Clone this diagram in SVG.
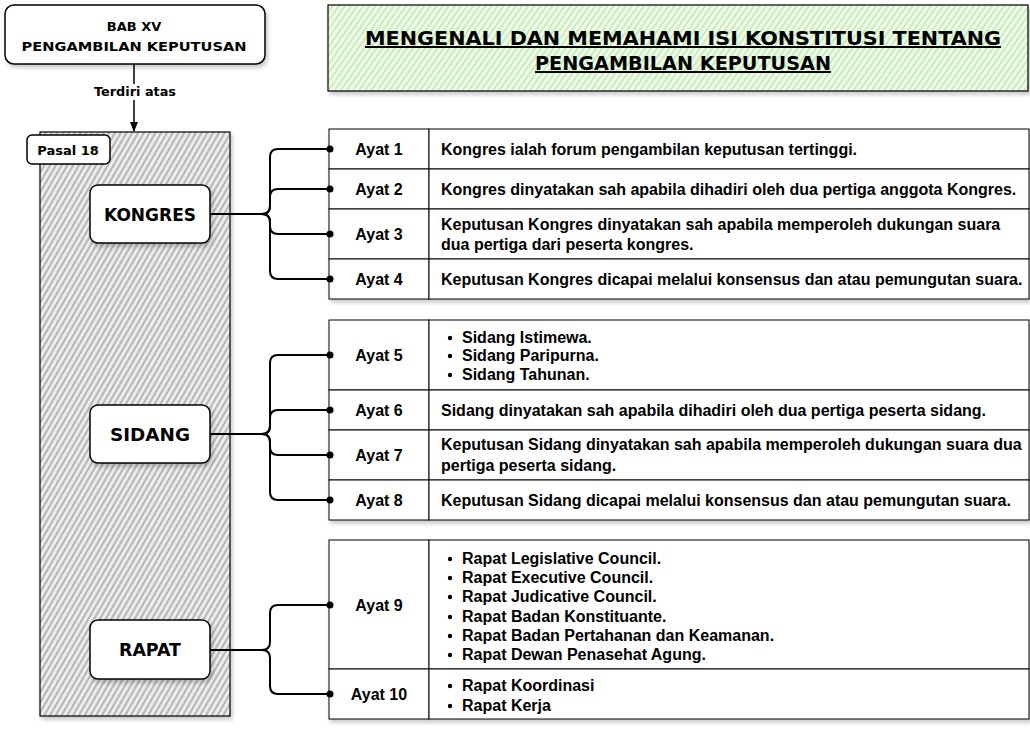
<svg xmlns="http://www.w3.org/2000/svg" width="1030" height="730" viewBox="0 0 1030 730">
<defs>
  <pattern id="hatchGray" width="5" height="5" patternUnits="userSpaceOnUse" patternTransform="rotate(30)">
    <rect width="5" height="5" fill="#ececec"/>
    <line x1="1" y1="0" x2="1" y2="5" stroke="#8a8a8a" stroke-width="1.1"/>
  </pattern>
  <pattern id="hatchGreen" width="5" height="5" patternUnits="userSpaceOnUse" patternTransform="rotate(35)">
    <rect width="5" height="5" fill="#eefbe8"/>
    <line x1="1" y1="0" x2="1" y2="5" stroke="#b4e3a2" stroke-width="1.2"/>
  </pattern>
  <filter id="shadow" x="-10%" y="-10%" width="130%" height="130%">
    <feDropShadow dx="2" dy="3" stdDeviation="2" flood-color="#000" flood-opacity="0.22"/>
  </filter>
  <marker id="arrow" markerWidth="10" markerHeight="10" refX="9" refY="5" orient="auto" markerUnits="userSpaceOnUse">
    <path d="M0,1 L10,5 L0,9 Z" fill="#000"/>
  </marker>
</defs>
<style>
  .sketch { font-family: "DejaVu Sans", "Liberation Sans", sans-serif; font-weight: bold; fill: #000; }
  .box { fill: #fff; stroke: #000; stroke-width: 1.5; }
  .cell { fill: #fff; stroke: #000; stroke-width: 1; }
  .tt { font-family: "Liberation Sans", Arial, sans-serif; font-weight: bold; font-size: 16px; fill: #000; }
  .lbl { text-anchor: middle; }
  .conn { fill: none; stroke: #000; stroke-width: 2; }
  .dot { fill: #000; }
</style>

<!-- Title -->
<g id="title">
  <rect x="328" y="5" width="700" height="86" fill="url(#hatchGreen)" stroke="#000" stroke-width="1.2" filter="url(#shadow)"/>
  <text class="sketch" x="683" y="45" font-size="20" text-anchor="middle" textLength="636" lengthAdjust="spacingAndGlyphs" text-decoration="underline">MENGENALI DAN MEMAHAMI ISI KONSTITUSI TENTANG</text>
  <text class="sketch" x="683" y="70" font-size="20" text-anchor="middle" textLength="296" lengthAdjust="spacingAndGlyphs" text-decoration="underline">PENGAMBILAN KEPUTUSAN</text>
</g>

<!-- BAB XV -->
<g id="bab">
  <rect class="box" x="5" y="5" width="260" height="59" rx="9" filter="url(#shadow)"/>
  <text class="sketch" x="134" y="31" font-size="13" text-anchor="middle">BAB XV</text>
  <text class="sketch" x="134" y="51" font-size="13" text-anchor="middle" textLength="225" lengthAdjust="spacingAndGlyphs">PENGAMBILAN KEPUTUSAN</text>
</g>

<!-- Pasal 18 panel -->
<g id="pasal18">
  <rect x="40" y="132" width="190" height="584" fill="url(#hatchGray)" stroke="#000" stroke-width="1.2" filter="url(#shadow)"/>
  <rect class="box" x="27" y="135" width="83" height="29" rx="5"/>
  <text class="sketch" x="68" y="155" font-size="13" text-anchor="middle">Pasal 18</text>
</g>

<g id="kongres">
  <rect class="box" x="90" y="185" width="120" height="58" rx="8" filter="url(#shadow)"/>
  <text class="sketch" x="150" y="221" font-size="17" text-anchor="middle" textLength="92" lengthAdjust="spacingAndGlyphs">KONGRES</text>
</g>
<g id="sidang">
  <rect class="box" x="90" y="405" width="120" height="58" rx="8" filter="url(#shadow)"/>
  <text class="sketch" x="150" y="441" font-size="17" text-anchor="middle" textLength="80" lengthAdjust="spacingAndGlyphs">SIDANG</text>
</g>
<g id="rapat">
  <rect class="box" x="90" y="620" width="120" height="59" rx="8" filter="url(#shadow)"/>
  <text class="sketch" x="150" y="656" font-size="17" text-anchor="middle" textLength="62" lengthAdjust="spacingAndGlyphs">RAPAT</text>
</g>

<!-- Table 1 -->
<g id="table1" filter="url(#shadow)">
  <rect class="cell" x="329" y="129" width="100" height="40"/>
  <rect class="cell" x="429" y="129" width="600" height="40"/>
  <rect class="cell" x="329" y="169" width="100" height="40"/>
  <rect class="cell" x="429" y="169" width="600" height="40"/>
  <rect class="cell" x="329" y="209" width="100" height="50"/>
  <rect class="cell" x="429" y="209" width="600" height="50"/>
  <rect class="cell" x="329" y="259" width="100" height="40"/>
  <rect class="cell" x="429" y="259" width="600" height="40"/>
</g>
<g id="table1-text">
  <text class="tt lbl" x="379" y="155">Ayat 1</text>
  <text class="tt" x="441" y="155">Kongres ialah forum pengambilan keputusan tertinggi.</text>
  <text class="tt lbl" x="379" y="195">Ayat 2</text>
  <text class="tt" x="441" y="195">Kongres dinyatakan sah apabila dihadiri oleh dua pertiga anggota Kongres.</text>
  <text class="tt lbl" x="379" y="240">Ayat 3</text>
  <text class="tt" x="441" y="230">Keputusan Kongres dinyatakan sah apabila memperoleh dukungan suara</text>
  <text class="tt" x="441" y="250">dua pertiga dari peserta kongres.</text>
  <text class="tt lbl" x="379" y="285">Ayat 4</text>
  <text class="tt" x="441" y="285">Keputusan Kongres dicapai melalui konsensus dan atau pemungutan suara.</text>
</g>

<!-- Table 2 -->
<g id="table2" filter="url(#shadow)">
  <rect class="cell" x="329" y="320" width="100" height="70"/>
  <rect class="cell" x="429" y="320" width="600" height="70"/>
  <rect class="cell" x="329" y="390" width="100" height="40"/>
  <rect class="cell" x="429" y="390" width="600" height="40"/>
  <rect class="cell" x="329" y="430" width="100" height="50"/>
  <rect class="cell" x="429" y="430" width="600" height="50"/>
  <rect class="cell" x="329" y="480" width="100" height="40"/>
  <rect class="cell" x="429" y="480" width="600" height="40"/>
</g>
<g id="table2-text">
  <text class="tt lbl" x="379" y="361">Ayat 5</text>
  <circle class="dot" cx="450" cy="338" r="2.2"/>
  <text class="tt" x="462" y="343">Sidang Istimewa.</text>
  <circle class="dot" cx="450" cy="356" r="2.2"/>
  <text class="tt" x="462" y="361">Sidang Paripurna.</text>
  <circle class="dot" cx="450" cy="375" r="2.2"/>
  <text class="tt" x="462" y="380">Sidang Tahunan.</text>
  <text class="tt lbl" x="379" y="416">Ayat 6</text>
  <text class="tt" x="441" y="416">Sidang dinyatakan sah apabila dihadiri oleh dua pertiga peserta sidang.</text>
  <text class="tt lbl" x="379" y="461">Ayat 7</text>
  <text class="tt" x="441" y="450">Keputusan Sidang dinyatakan sah apabila memperoleh dukungan suara dua</text>
  <text class="tt" x="441" y="471">pertiga peserta sidang.</text>
  <text class="tt lbl" x="379" y="506">Ayat 8</text>
  <text class="tt" x="441" y="506">Keputusan Sidang dicapai melalui konsensus dan atau pemungutan suara.</text>
</g>

<!-- Table 3 -->
<g id="table3" filter="url(#shadow)">
  <rect class="cell" x="329" y="540" width="100" height="129"/>
  <rect class="cell" x="429" y="540" width="600" height="129"/>
  <rect class="cell" x="329" y="669" width="100" height="50"/>
  <rect class="cell" x="429" y="669" width="600" height="50"/>
</g>
<g id="table3-text">
  <text class="tt lbl" x="379" y="611">Ayat 9</text>
  <circle class="dot" cx="450" cy="559" r="2.2"/>
  <text class="tt" x="462" y="564">Rapat Legislative Council.</text>
  <circle class="dot" cx="450" cy="578" r="2.2"/>
  <text class="tt" x="462" y="583">Rapat Executive Council.</text>
  <circle class="dot" cx="450" cy="597" r="2.2"/>
  <text class="tt" x="462" y="602">Rapat Judicative Council.</text>
  <circle class="dot" cx="450" cy="617" r="2.2"/>
  <text class="tt" x="462" y="622">Rapat Badan Konstituante.</text>
  <circle class="dot" cx="450" cy="636" r="2.2"/>
  <text class="tt" x="462" y="641">Rapat Badan Pertahanan dan Keamanan.</text>
  <circle class="dot" cx="450" cy="655" r="2.2"/>
  <text class="tt" x="462" y="660">Rapat Dewan Penasehat Agung.</text>
  <text class="tt lbl" x="379" y="700">Ayat 10</text>
  <circle class="dot" cx="450" cy="686" r="2.2"/>
  <text class="tt" x="462" y="691">Rapat Koordinasi</text>
  <circle class="dot" cx="450" cy="706" r="2.2"/>
  <text class="tt" x="462" y="711">Rapat Kerja</text>
</g>

<!-- Connectors -->
<g id="connectors">
  <line x1="134" y1="64" x2="134" y2="131" stroke="#000" stroke-width="1.5" marker-end="url(#arrow)"/>
  <rect x="92" y="84" width="86" height="16" fill="#fff"/>
  <text class="sketch" x="135" y="96" font-size="12" text-anchor="middle" textLength="82" lengthAdjust="spacingAndGlyphs">Terdiri atas</text>

  <path class="conn" d="M210,214 H262 Q270,214 270,206 V157 Q270,149 278,149 H330"/>
  <path class="conn" d="M262,214 Q270,214 270,206 V197 Q270,189 278,189 H330"/>
  <path class="conn" d="M262,214 Q270,214 270,222 V226 Q270,234 278,234 H330"/>
  <path class="conn" d="M262,214 Q270,214 270,222 V271 Q270,279 278,279 H330"/>
  <circle class="dot" cx="330" cy="149" r="3.5"/>
  <circle class="dot" cx="330" cy="189" r="3.5"/>
  <circle class="dot" cx="330" cy="234" r="3.5"/>
  <circle class="dot" cx="330" cy="279" r="3.5"/>

  <path class="conn" d="M210,434 H262 Q270,434 270,426 V363 Q270,355 278,355 H330"/>
  <path class="conn" d="M262,434 Q270,434 270,426 V418 Q270,410 278,410 H330"/>
  <path class="conn" d="M262,434 Q270,434 270,442 V447 Q270,455 278,455 H330"/>
  <path class="conn" d="M262,434 Q270,434 270,442 V492 Q270,500 278,500 H330"/>
  <circle class="dot" cx="330" cy="355" r="3.5"/>
  <circle class="dot" cx="330" cy="410" r="3.5"/>
  <circle class="dot" cx="330" cy="455" r="3.5"/>
  <circle class="dot" cx="330" cy="500" r="3.5"/>

  <path class="conn" d="M210,650 H262 Q270,650 270,642 V613 Q270,605 278,605 H330"/>
  <path class="conn" d="M262,650 Q270,650 270,658 V686 Q270,694 278,694 H330"/>
  <circle class="dot" cx="330" cy="605" r="3.5"/>
  <circle class="dot" cx="330" cy="694" r="3.5"/>
</g>
</svg>
